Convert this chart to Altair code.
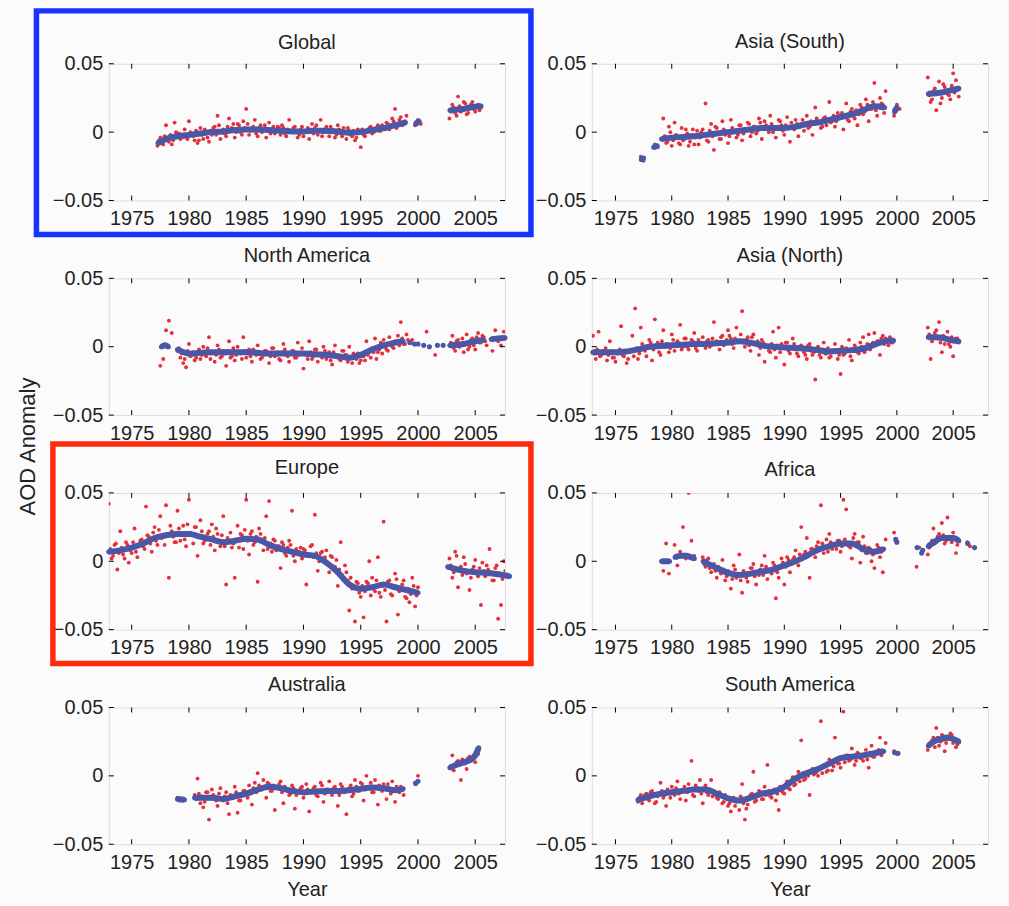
import altair as alt
import pandas as pd

# ---------------- data (anomalies in units of 0.001) ----------------
# red points: list of (start_year, values) runs, one value per quarter-year
GLOBAL_RED = [
    (1977.25, [-10, -4, -9, 5, -7, -9, 7, -2, -5, -3, -4, 8, -1, -6, -8, 3, -5, 0, -7, -2, 4, 12, -5,
               2, -3, 10, 3, -4, 6, 0, 8, 17, -2, 3, 9, -3, 5, 1, -4, 7, 2, -1, 4, -2, 3, -3, 9,
               0, 4, -4, 2, -3, 1, -5, 6, 3, -2, 9, 0, 4, -3, 2, -4, 5, -1, 3, -5, 1, -3, -6, 2,
               -11, -2, 0, 3, -1, 2, 5, 1, 4, 7, 2, 10, 17, 5, 11, 6, 12]),
    (1977.375, [-6, -8, -3, -5, -2, -6, 0, -1, -4, 2, -5, 0, -3, 1, -6, -2, 2, -4, 1, 3, -2, 5, 0,
                -1, 4, 2, 6, 0, 5, -2, 3, 6, 1, 4, -1, 3, 0, 5, 2, -1, 4, 1, 3, 5, -1, 2, 0,
                3, 1, -2, 4, 0, 3, 2, -1, 5, 1, -3, 2, 0, 4, 1, -2, 2, -3, 0, 3, -2, 1, -4, 0,
                2, -3, 1, 4, 0, 3, 1, 5, 2, 6, 4, 8, 3, 9, 5, 8]),
    (1999.75, [5, 9, 6]),
    (2002.75, [10, 20, 14, 26, 15, 22, 13, 17, 22, 15, 20, 18]),
    (2002.875, [15, 18, 12, 19, 16, 21, 14, 20, 17, 19, 16]),
]
GLOBAL_BLUE = [
    [(1977.3, -8), (1978, -5), (1979, -3), (1980, -2), (1981, -1), (1982, 0), (1983, 0.5), (1984, 1.5),
     (1985, 2), (1986, 2), (1987, 1.5), (1988, 1), (1989, 0.5), (1990, 0.5), (1991, 1), (1992, 1),
     (1993, 0.5), (1994, -0.5), (1995, 0), (1996, 1.5), (1997, 3), (1998, 5), (1998.9, 7)],
    [(1999.8, 6), (2000.1, 8)],
    [(2002.8, 16), (2003.5, 16.5), (2004, 17), (2004.5, 18), (2005, 18.5), (2005.5, 19)],
]
GLOBAL_DOTS = []

ASIA_S_RED = [
    (1977.25, [-18, -21]),
    (1978.5, [-9, -11]),
    (1979.25, [10, -8, 4, -10, 7, -3, -9, -6, 2, -10, -2, -9, 1, -4, 2, 21, -7, 6, -13, 3, -5, 8, -2,
               -8, 9, 0, -4, 5, -6, 2, 7, -3, 4, -1, 10, -5, 8, 2, 12, 0, -4, 9, 5, -2, 11, -7, 3,
               9, -3, 6, 1, 12, 4, -2, 18, 7, 3, 10, 5, 22, 8, 4, 14, 12, 2, 21, 8, 17, 10, 5, 20,
               13, 24, 8, 17, 36, 12, 25, 20, 30]),
    (1979.375, [-3, -7, 0, -6, -2, -8, 3, -5, -1, -7, 2, -4, -9, 0, -2, -6, 1, -3, 4, -1,
                -5, 2, 0, -3, 3, 1, -2, 5, -1, 2, 6, 0, 4, 1, 7, 3, 5, 0, 6, 2,
                4, 8, 1, 5, 3, 7, 2, 6, 4, 9, 5, 3, 8, 6, 10, 7, 4, 11, 9, 7,
                12, 8, 10, 14, 11, 9, 15, 12, 16, 13, 18, 15, 20, 17, 22, 16, 19, 21, 14]),
    (1999.75, [12, 20, 17]),
    (2002.75, [40, 22, 30, 16, 37, 25, 33, 28, 24, 43, 38, 26]),
    (2002.875, [27, 24, 32, 29, 21, 35, 30, 27, 34, 29, 31]),
]
ASIA_S_BLUE = [
    [(1977.3, -20), (1977.5, -19)],
    [(1978.4, -11), (1978.7, -10)],
    [(1979.1, -5), (1980, -4), (1981, -3.5), (1982, -3), (1983, -2), (1984, -1), (1985, 0), (1986, 1),
     (1987, 2), (1988, 3), (1989, 3), (1990, 3), (1991, 4), (1992, 6), (1993, 7), (1994, 9),
     (1995, 11), (1996, 13), (1997, 16), (1998, 19), (1998.9, 18)],
    [(1999.8, 15), (2000.0, 18)],
    [(2002.8, 28), (2003.5, 28.5), (2004, 29), (2004.5, 30), (2005, 31), (2005.5, 32)],
]
ASIA_S_DOTS = []

N_AMERICA_RED = [
    (1977.5, [-14, -9, 12, 19, 10]),
    (1979.0, [-3, -8, -12, -15, 2, -6, -10, -4, -9, 0, -7, 7, -5, -11, 1, -8, -3, -14, 4, -7,
              -10, 0, -5, 7, -8, -2, -11, -4, 1, -9, -6, -3, -12, -1, -7, -4, -10, 2, -6, -11,
              -3, -8, 3, -5, -16, -6, 4, -9, -2, -11, -5, 0, -9, -4, -13, 1, -7, -10, -3, -6,
              0, -12, -8, -5, -10, -7, 4, -3, -1, 6, -4, 3, 5, -2, 7, 0, 4, 8, 18, 2, 9, 3, 5]),
    (1979.125, [-1, -5, -9, -3, -7, -4, -8, -2, -6, -5, -1, -9, -4, -6, -2, -7, -5, -3, -8, -1,
                -6, -4, -9, -3, -5, -7, -2, -6, -4, -8, -3, -5, -7, -1, -6, -9, -4, -2, -7, -5,
                -3, -8, -6, -1, -5, -9, -4, -7, -2, -6, -8, -3, -5, -10, -4, -7, -9, -3, -6, -11,
                -8, -5, -9, -12, -7, -10, -6, -8, -4, -9, -2, -5, 0, -3, 2, -1, 4, 1, 6, 2, 5, 3]),
    (2000.75, [11]),
    (2001.5, [-6]),
    (2002.75, [1, 8, -3, 5, 2, -4, 9, 0, 6, -2, 10, 3, 7, 1]),
    (2002.875, [3, -1, 4, 0, 6, 2, -2, 5, 1, 7, 3, 8, 4]),
    (2006.5, [-3, 12, 4, 1, 11]),
]
N_AMERICA_BLUE = [
    [(1977.6, 0), (1977.9, 1), (1978.2, 0)],
    [(1979, -2), (1980, -5), (1981, -4.5), (1982, -4), (1983, -4), (1984, -4), (1985, -4), (1986, -4.5),
     (1987, -5), (1988, -5), (1989, -5), (1990, -5), (1991, -5.5), (1992, -6), (1993, -7), (1994, -8),
     (1995, -6), (1996, -2), (1997, 1), (1998, 3), (1998.7, 4)],
    [(2002.8, 1), (2003.5, 1.5), (2004, 2), (2004.5, 3), (2005, 4), (2005.7, 5)],
    [(2006.4, 5.5), (2007, 6), (2007.6, 6.5)],
]
N_AMERICA_DOTS = [(1999.3, 3), (1999.7, 2), (2000.0, 2), (2000.5, 1), (2001.0, 0), (2001.7, 1), (2002.2, 1)]

ASIA_N_RED = [
    (1973.0, [8, -9, 11, -6, -3, -10, 4, -8, -11, -5, 15, -7, -12, -4, 8, 28, -9, 14, -2, -7,
              5, -10, 20, 3, -6, 12, 2, -4, 9, -3, 4, 16, 0, 6, -2, 5, 10, -3, 3, 7, -1, 5, 1, 18,
              4, -2, 8, 3, 12, 6, -1, 14, 4, 26, 0, 7, -3, 9, 2, -6, 5, -11, 1, -4, 11, -8, 14, 2,
              -13, 3, -5, 6, -2, -7, 1, -4, -9, 2, -6, -24, 0, -8, 3, -5, -8, -3, 2, -9,
              -20, -6, -1, 5, -10, 1, -4, 3, 7, -2, 9, 0, 10, 4, -6, 8, 6, 1, 3]),
    (1973.125, [-5, -2, -7, -4, -1, -6, -3, -8, -5, -2, -6, -4, -9, -3, -7, -1, -5, 2, -3, 0,
                3, -2, 1, -4, 4, 0, 2, -1, 5, 1, 3, -2, 6, 0, 2, 4, -1, 5, 3, 1,
                4, 0, 6, 2, 3, 7, 1, 5, 8, 2, 6, 4, 9, 3, 5, 1, 7, 2, 4, -1,
                3, 0, -3, 2, -2, 1, -4, 0, 3, -3, -1, 2, -5, 0, -2, -6, 1, -3, -4, -1,
                -6, -2, -5, -1, -7, -4, -3, -6, 0, -5, -2, -7, -3, -1, -5, 0, -4, 2, -2, 3,
                1, 4, 6, 2, 5, 7, 3]),
    (2002.75, [14, -9, 7, 12, 18, -4, 2, 11, 0, -7, 6, 3]),
    (2002.875, [9, 4, 10, 6, 3, 8, 5, 2, 7, 4, 6]),
]
ASIA_N_BLUE = [
    [(1973, -4), (1974, -4), (1975, -4), (1976, -3.5), (1977, -2), (1978, 0), (1979, 0.5), (1980, 1),
     (1981, 1.5), (1982, 2), (1983, 2), (1984, 2.5), (1985, 3), (1986, 4), (1987, 3), (1988, 1),
     (1989, 0), (1990, -0.5), (1991, -1), (1992, -1.5), (1993, -2.5), (1994, -3.5), (1995, -3),
     (1996, -2.5), (1997, -1.5), (1998, 1.5), (1999, 4), (1999.7, 4.5)],
    [(2002.8, 7), (2003.5, 7), (2004, 6.5), (2004.5, 5.5), (2005, 4.5), (2005.5, 4)],
]
ASIA_N_DOTS = []

EUROPE_RED = [
    (1973.0, [42, 2, 12, -6, 22, 5, 14, -1, 6, 24, 3, 15, 11, 40, 18, 7, 25, 12, 33, 18,
              41, -12, 22, 14, 37, 15, 26, 11, 45, 20, 25, 4, 30, 13, 17, 22, 27, 8, 20, 11,
              33, -17, 15, 10, -12, 26, 20, 9, 45, 5, 22, 14, -15, 20, 8, 33, 44, 7, 15, 11,
              -5, 12, 4, 15, 37, 0, 6, 10, 9, -17, 4, 12, 34, -7, 6, 1, 8, -8, 3, -4,
              -18, 14, -12, -8, -36, -20, -44, -16, -26, -41, -15, 0, -12, -22, 3, -26,
              29, -44, -14, -25, -9, -39, -20, -14, -27, -30, -12, -33, -19]),
    (1973.125, [9, 4, 13, 6, 10, 2, 12, 8, 14, 7, 11, 16, 9, 19, 13, 21, 15, 23, 17, 12, 20, 26, 18, 14,
                24, 19, 16, 27, 21, 13, 25, 18, 22, 15, 20, 12, 18, 24, 14, 19, 11, 17, 21, 13, 16, 10, 19, 23,
                15, 20, 12, 18, 24, 14, 17, 9, 13, 16, 8, 11, 14, 6, 10, 12, 4, 9, 7, 2, 8, 5, 11, 3,
                6, 0, 7, 3, -2, 4, -5, 1, -6, -10, -3, -14, -12, -19, -15, -23, -18, -22, -16, -25, -20, -14, -23, -18,
                -21, -15, -24, -19, -13, -22, -17, -26, -20, -24, -18, -25]),
    (2002.75, [2, -12, 7, -19, -4, 3, -9, -21, -6, 1, -11, -32, -7, -3, 9, -14, -5, -42, -32, 0, 5, -20]),
    (2002.875, [-3, -8, 4, -6, -10, -2, -7, -12, -4, -9, -5, -1, -11, -6, -8, -14, -3, -9, -13, -7, -10]),
]
EUROPE_BLUE = [
    [(1973, 7), (1974, 8), (1975, 10), (1976, 13), (1977, 17), (1978, 19), (1979, 20), (1980, 20),
     (1981, 18), (1982, 16), (1983, 14), (1984, 15), (1985, 16.5), (1986, 16), (1987, 12), (1988, 9),
     (1989, 7), (1990, 5), (1991, 4), (1992, -1), (1993, -8), (1994, -17), (1995, -20), (1996, -19),
     (1997, -17), (1998, -19), (1999, -21), (2000, -23)],
    [(2002.6, -4), (2003, -5), (2004, -7), (2005, -8), (2006, -8.5), (2007, -9.5), (2008, -11)],
]
EUROPE_DOTS = []

AFRICA_RED = [
    (1979.25, [-7, 13, -9]),
    (1980.25, [12, -3, 7, 25, 2, 50, 15, 4]),
    (1982.75, [3, -4, 2, -8, -2, -12, -5, 1, -14, -7, -20, -3, -12, 5, -23, -9, -15, -5, -2, -17, -10,
               -3, 4, -13, -6, -1, -27, -12, 2, -17, 3, -8, 1, 8, -3, 25, 5, 17, -12, 9, 3,
               14, 41, 6, 16, 20, 9, 12, 15, 7, 45, 38, 11, 2, 20, 14, -1, 18, 6, 10, 0,
               -5, 12, 3, -8, 16]),
    (1982.875, [-2, 1, -5, -3, -7, -4, -9, -6, -11, -8, -13, -6, -10, -14, -7, -12,
                -9, -5, -11, -8, -6, -10, -4, -7, -9, -3, -8, -5, -1, -4, 1, -2,
                3, 0, 5, 2, 7, 4, 9, 6, 11, 8, 13, 10, 7, 14, 12, 9,
                15, 11, 16, 13, 10, 17, 12, 14, 8, 11, 6, 9, 5, 8, 10, 7, 9]),
    (1999.75, [21, 14]),
    (2001.75, [-4, 10]),
    (2002.75, [5, 12, 24, 14, 20, 28, 13, 32, 17, 21, 6, 15]),
    (2002.875, [10, 15, 13, 18, 16, 19, 15, 18, 14, 17, 12]),
    (2006.25, [14, 11]),
]
AFRICA_BLUE = [
    [(1979.1, 0), (1979.5, 0), (1979.8, 0)],
    [(1980.3, 3), (1980.8, 4), (1981.3, 4), (1981.7, 3), (1982.0, 2)],
    [(1982.8, 0), (1983.5, -3), (1984, -5), (1985, -8.5), (1986, -10), (1987, -9), (1988, -7.5),
     (1989, -6), (1990, -3), (1991, 0), (1992, 4), (1993, 8.5), (1994, 11), (1995, 13), (1996, 13),
     (1997, 9), (1997.5, 7.5), (1998, 7), (1998.8, 9)],
    [(2002.8, 11), (2003.3, 14), (2004, 17), (2004.5, 17), (2005, 17), (2005.5, 15)],
]
AFRICA_DOTS = [(1999.9, 16), (2000.0, 14), (2001.8, 10), (2002.2, 6), (2002.3, 8), (2006.3, 13), (2006.9, 10)]

AUSTRALIA_RED = [
    (1979.0, [-16, -18, -17]),
    (1980.5, [-14, -2, -20, -23, -12, -32, -10, -15, -22, -9, -18, -12, -28, -15, -8, -27, -18, -11,
              -14, -7, -21, -5, 2, -10, -3, -16, -6, -11, -25, -8, -4, -20, -10, -14, -7, -24, -12, -9,
              -16, -6, -26, -11, -8, -15, -5, -19, -10, -4, -14, -8, -22, -6, -12, -28, -9, -15, -3, -11,
              -5, -18, 0, -8, -12, -3, -21, -10, -6, -17, -9, -4, -19, -11, -8, -14]),
    (1980.625, [-17, -13, -15, -19, -12, -16, -14, -18, -13, -17, -15, -20, -14, -16, -12, -18,
                -14, -11, -16, -13, -9, -12, -7, -10, -8, -5, -11, -7, -9, -6, -12, -8,
                -10, -13, -9, -14, -11, -8, -13, -10, -12, -9, -14, -11, -7, -13, -10, -12,
                -9, -11, -14, -8, -12, -10, -7, -13, -8, -11, -6, -10, -9, -5, -12, -8,
                -7, -11, -9, -6, -13, -10, -8, -12, -10]),
    (1999.75, [-5, 0]),
    (2002.75, [6, 15, 8, 11, -3, 9, 5, 14, 12, 10, 16]),
    (2002.875, [7, 4, 10, 8, 12, 9, 13, 11, 15, 18]),
]
AUSTRALIA_BLUE = [
    [(1979, -17), (1979.6, -17.5)],
    [(1980.5, -16), (1981, -16), (1982, -16), (1983, -17), (1984, -15), (1985, -13), (1986, -10),
     (1987, -8), (1988, -9), (1989, -11), (1990, -12), (1991, -11.5), (1992, -11), (1993, -11),
     (1994, -10.5), (1995, -9.5), (1996, -8.5), (1997, -9), (1998, -10.5), (1998.7, -9.5)],
    [(2002.8, 6), (2003.5, 8.5), (2004, 10), (2004.5, 11.5), (2005, 15), (2005.3, 20.5)],
]
AUSTRALIA_DOTS = [(1999.8, -5.5), (2000.0, -4)]

S_AMERICA_RED = [
    (1977.0, [-19, -14, -17, -13, -18, -11, -20, -15, -5, -16, -22, -12, -8, -14, -4, -17,
              -11, -18, -6, 11, -15, -9, -3, -20, -7, -14, -3, -11, -16, -12, -20, -14,
              -22, -26, -16, -19, -25, -6, -32, -21, -14, 3, -18, -11, -17, -8, 8, -15,
              -12, -18, -25, -9, -13, -4, -10, -1, -6, 3, 26, -3, 1, -14, 5, 2, 0, 40, 7, 3,
              12, 4, 28, 9, 6, 47, 15, 11, 20, 8, 17, 13, 11, 19, 6, 22, 14, 18, 28, 17, 24]),
    (1977.125, [-16, -20, -14, -17, -12, -15, -19, -13, -11, -14, -10, -16, -12, -9, -13, -11,
                -8, -12, -10, -14, -7, -11, -13, -9, -12, -10, -15, -13, -17, -14, -19, -16,
                -20, -17, -22, -18, -15, -20, -24, -16, -13, -19, -15, -12, -17, -14, -11, -16,
                -10, -13, -8, -12, -6, -9, -4, -7, -1, -4, 2, -2, 0, 4, 1, 3,
                6, 2, 8, 4, 10, 7, 12, 9, 13, 10, 15, 12, 14, 11, 16, 13, 15, 12, 17, 14, 16, 19, 15, 18]),
    (1999.75, [18, 16]),
    (2002.75, [19, 24, 28, 35, 22, 30, 18, 27, 31, 24, 21, 26]),
    (2002.875, [23, 26, 21, 28, 25, 29, 24, 27, 30, 26, 23]),
]
S_AMERICA_BLUE = [
    [(1977, -17.5), (1978, -15), (1979, -13), (1980, -12), (1981, -11), (1982, -10), (1983, -10),
     (1984, -13), (1985, -16.5), (1986, -18), (1987, -16), (1988, -13), (1989, -11.5), (1990, -8),
     (1991, -2), (1992, 2), (1993, 5), (1994, 9), (1995, 13), (1996, 14), (1997, 15), (1998, 16.5),
     (1998.8, 18)],
    [(2002.8, 22), (2003.5, 26), (2004, 27), (2004.5, 28), (2005, 27), (2005.5, 25)],
]
S_AMERICA_DOTS = [(1999.8, 17), (2000.1, 16.5)]

PANELS = [
    ("Global", GLOBAL_RED, GLOBAL_BLUE, GLOBAL_DOTS),
    ("Asia (South)", ASIA_S_RED, ASIA_S_BLUE, ASIA_S_DOTS),
    ("North America", N_AMERICA_RED, N_AMERICA_BLUE, N_AMERICA_DOTS),
    ("Asia (North)", ASIA_N_RED, ASIA_N_BLUE, ASIA_N_DOTS),
    ("Europe", EUROPE_RED, EUROPE_BLUE, EUROPE_DOTS),
    ("Africa", AFRICA_RED, AFRICA_BLUE, AFRICA_DOTS),
    ("Australia", AUSTRALIA_RED, AUSTRALIA_BLUE, AUSTRALIA_DOTS),
    ("South America", S_AMERICA_RED, S_AMERICA_BLUE, S_AMERICA_DOTS),
]

X_TICKS = [1975, 1980, 1985, 1990, 1995, 2000, 2005]
Y_TICKS = [-0.05, 0.0, 0.05]
HIGHLIGHT = {"Global": "#1633ff", "Europe": "#ff2a0a"}

# ---------------- styling ----------------
W, H = 397, 137
FONT = "Liberation Sans"
RED = "#e3303a"
BLUE = "#4a57a6"
TXT = "#222222"
STEP = 0.25
TITLE_GAP = {"Global": 15, "Asia (South)": 16, "North America": 16, "Asia (North)": 16,
             "Europe": 19, "Africa": 17, "Australia": 17, "South America": 17}


def panel(idx, name, red, blue, dots):
    col, row = idx % 2, idx // 2
    xdom = [1973.0, 2007.6] if col == 0 else [1972.9, 2008.1]

    red_df = pd.DataFrame(
        [{"x": s + STEP * i, "y": v / 1000.0} for s, vals in red for i, v in enumerate(vals)]
    )
    blue_df = pd.DataFrame(
        [{"seg": k, "x": x, "y": v / 1000.0} for k, seg in enumerate(blue) for x, v in seg]
    )
    knot_df = pd.concat(
        [blue_df[["x", "y"]], pd.DataFrame([{"x": x, "y": v / 1000.0} for x, v in dots], columns=["x", "y"])],
        ignore_index=True,
    )

    x_axis_kw = dict(
        values=X_TICKS, format="d", ticks=False, domain=False, grid=False,
        labelPadding=8, labelFlush=False, labelOverlap=False,
        labelFontSize=20, labelColor=TXT, labelFont=FONT,
    )
    if row == 3:
        x_axis_kw.update(title="Year", titleFontSize=20, titleFont=FONT, titleFontWeight="normal",
                         titleColor=TXT, titlePadding=7)
    else:
        x_axis_kw.update(title=None)
    y_axis_kw = dict(
        values=Y_TICKS, labelExpr="datum.value == 0 ? '0' : format(datum.value, '.2f')",
        ticks=False, domain=False, grid=False, labelPadding=6, labelFlush=False,
        labelOverlap=False, labelFontSize=20, labelColor=TXT, labelFont=FONT,
    )
    if name == "North America":
        y_axis_kw.update(title="AOD Anomaly", titleX=-81, titleY=168, titleAngle=270,
                         titleAlign="center", titleBaseline="middle", titleFontSize=22,
                         titleFont=FONT, titleFontWeight="normal", titleColor=TXT)
    else:
        y_axis_kw.update(title=None)

    X = alt.X("x:Q", scale=alt.Scale(domain=xdom, nice=False, zero=False), axis=alt.Axis(**x_axis_kw))
    Y = alt.Y("y:Q", scale=alt.Scale(domain=[-0.05, 0.05], nice=False, zero=False), axis=alt.Axis(**y_axis_kw))

    pts = alt.Chart(red_df).mark_circle(size=15, color=RED, opacity=1, clip=True).encode(x=X, y=Y)
    line = alt.Chart(blue_df).mark_line(color=BLUE, strokeWidth=6, interpolate="monotone").encode(
        x=X, y=Y, detail="seg:N"
    )
    knots = alt.Chart(knot_df).mark_circle(size=26, color=BLUE, opacity=1).encode(x=X, y=Y)

    xt = pd.DataFrame({"x": X_TICKS})
    yt = pd.DataFrame({"y": Y_TICKS})
    tick_top = alt.Chart(xt).mark_rule(color="#000", strokeWidth=1).encode(x=X, y=alt.value(0), y2=alt.value(5))
    tick_bot = alt.Chart(xt).mark_rule(color="#000", strokeWidth=1).encode(x=X, y=alt.value(H), y2=alt.value(H - 5))
    tick_l = alt.Chart(yt).mark_rule(color="#000", strokeWidth=1).encode(y=Y, x=alt.value(0), x2=alt.value(5))
    tick_r = alt.Chart(yt).mark_rule(color="#000", strokeWidth=1).encode(y=Y, x=alt.value(W - 5), x2=alt.value(W))

    title = alt.Chart(pd.DataFrame({"t": [name]})).mark_text(
        font=FONT, fontSize=20, color=TXT, align="center", baseline="alphabetic"
    ).encode(text="t:N", x=alt.value(W / 2), y=alt.value(-TITLE_GAP[name]))

    layers = [pts, line, knots, tick_top, tick_bot, tick_l, tick_r, title]
    if name in HIGHLIGHT:
        left = -72.5 if name == "Global" else -56
        top = -53 if name == "Global" else -49
        box = alt.Chart(pd.DataFrame({"k": [0]})).mark_rect(
            fillOpacity=0, stroke=HIGHLIGHT[name], strokeWidth=5.5
        ).encode(x=alt.value(left), x2=alt.value(423), y=alt.value(top), y2=alt.value(171))
        layers.append(box)

    return alt.layer(*layers).properties(width=W, height=H)


charts = [panel(i, *p) for i, p in enumerate(PANELS)]

chart = alt.concat(*charts, columns=2, spacing={"row": 78, "column": 87}, bounds="flush").properties(
    padding={"left": 16, "top": 6, "right": 20, "bottom": 5},
    background="#fbfbfb",
).configure_view(stroke="#000000", strokeWidth=1).configure(font=FONT)

chart.save("out.html", embed_options={"renderer": "svg", "actions": False})
